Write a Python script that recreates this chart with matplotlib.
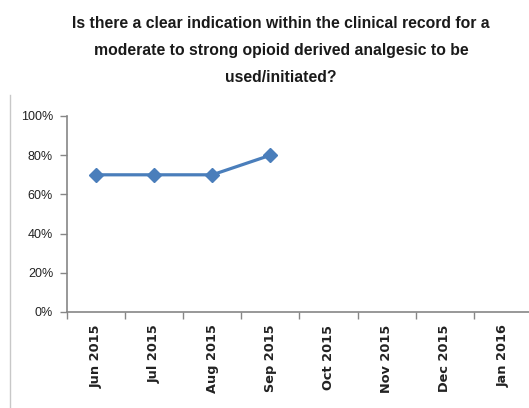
import numpy as np
import matplotlib.pyplot as plt
from matplotlib.lines import Line2D

# Data
months = ["Jun 2015", "Jul 2015", "Aug 2015", "Sep 2015",
          "Oct 2015", "Nov 2015", "Dec 2015", "Jan 2016"]
values = [0.70, 0.70, 0.70, 0.80]  # only first four months reported
y_ticks = [0, 0.2, 0.4, 0.6, 0.8, 1.0]
title = ("Is there a clear indication within the clinical record for a\n"
         "moderate to strong opioid derived analgesic to be\n"
         "used/initiated?")

line_color = '#4A7EBB'
axis_color = '#868686'

fig = plt.figure(figsize=(5.29, 4.08), dpi=100)
ax = fig.add_axes([67 / 529, 96 / 408, 465 / 529, 196 / 408])

x = np.arange(len(values))
ax.plot(x, values, color=line_color, linewidth=2.3, marker='D',
        markersize=7, markeredgecolor=line_color, markerfacecolor=line_color)

ax.set_xlim(-0.5, len(months) - 0.5)
ax.set_ylim(0, 1.0)

# category ticks sit between months, labels sit at the month centres
ax.set_xticks(np.arange(len(months)))
ax.set_xticklabels(months, rotation=90, fontsize=9.3, fontweight='bold',
                   family='DejaVu Sans', color='#222222')
ax.set_xticks(np.arange(-0.5, len(months)), minor=True)
ax.tick_params(axis='x', which='major', length=0, pad=9)
ax.tick_params(axis='x', which='minor', length=5, color=axis_color, width=1)

ax.set_yticks(y_ticks)
ax.set_yticklabels([f"{int(v * 100)}%" for v in y_ticks], fontsize=9,
                   family='Liberation Sans', color='#222222')
ax.tick_params(axis='y', length=5, color=axis_color, width=1, pad=5)

for side in ['top', 'right']:
    ax.spines[side].set_visible(False)
for side in ['left', 'bottom']:
    ax.spines[side].set_color(axis_color)
    ax.spines[side].set_linewidth(1.2)

fig.text(281 / 529, 1 - 16 / 408, title, ha='center', va='top',
         fontsize=11.3, fontweight='bold', family='Liberation Sans',
         linespacing=2.0, color='#1a1a1a')

# faint chart frame on the left
fig.add_artist(Line2D([10 / 529, 10 / 529], [0, 1 - 95 / 408],
                      color='#c8c8c8', linewidth=1))

fig.savefig('out.png', dpi=100)
